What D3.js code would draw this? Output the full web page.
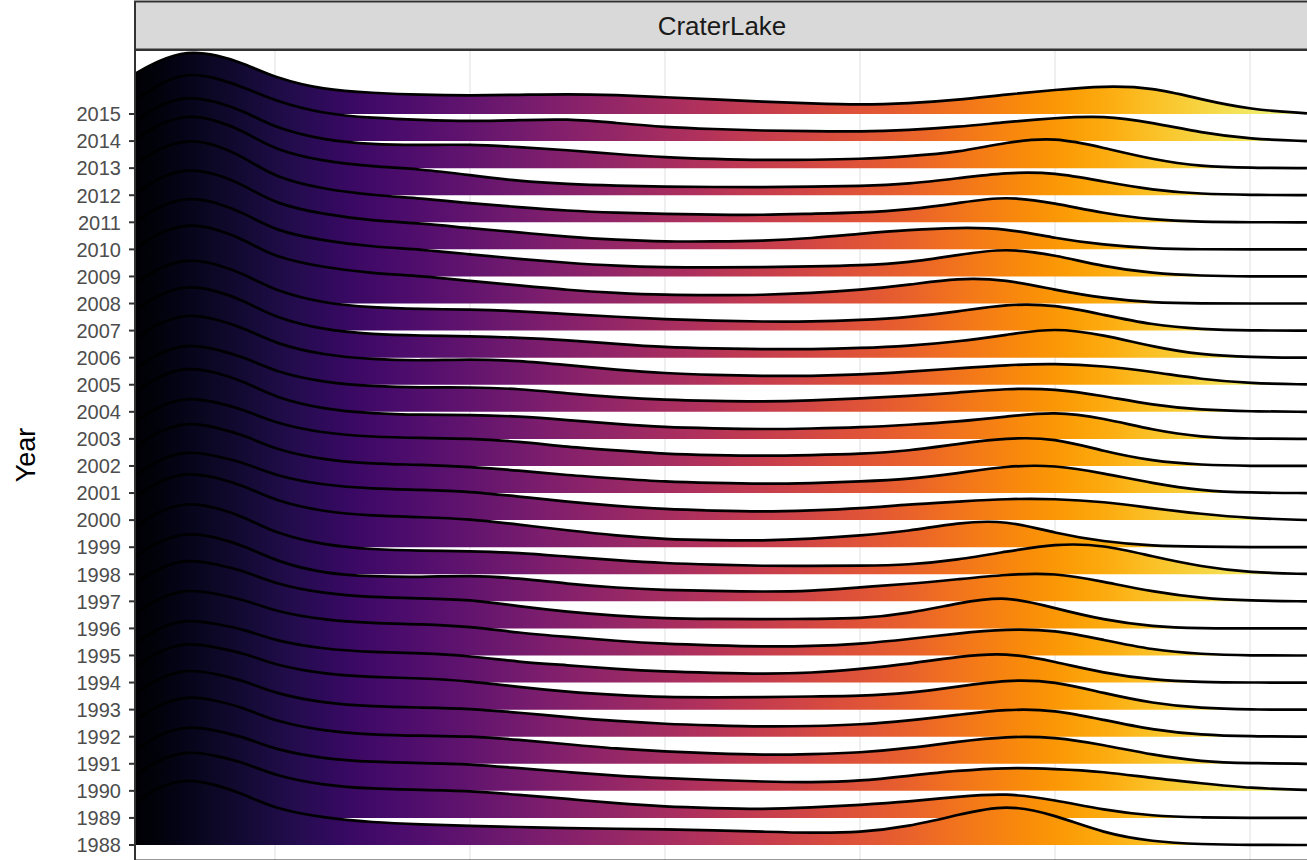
<!DOCTYPE html>
<html>
<head>
<meta charset="utf-8">
<script src="https://cdn.jsdelivr.net/npm/d3@7"></script>
<style>
  body { margin: 0; background: #ffffff; }
  svg { display: block; font-family: "Liberation Sans", Arial, Helvetica, sans-serif; }
</style>
</head>
<body>
<svg id="chart" width="1307" height="860"></svg>
<script>
// ---- data ----
const facetLabel = "CraterLake";
const years = [1988,1989,1990,1991,1992,1993,1994,1995,1996,1997,1998,1999,2000,2001,2002,2003,2004,2005,2006,2007,2008,2009,2010,2011,2012,2013,2014,2015];
const gridValues = [0, 10, 20, 30, 40, 50];
// x positions where the densities were read
const xSamples = [-7.18,-6,-4.5,-3,-1.5,0,2.5,5,7.5,10,12.5,15,17.5,20,22.5,25,27.5,30,32.5,35,37.5,40,42.5,45,47.5,50,52.92];
// density heights (relative units; 27 = one row step)
const d2015 = [40,53,63,59,50,36,24,21,19,18.5,19,20,19,16.7,14.5,12.3,10.5,9,10.5,14,19.5,24,28,26.5,14.5,4.4,0.7];
const d2014 = [40,57,68.5,63,53,40,27,23,21,19.8,20.8,22.3,18,13.8,12,10.4,9.8,9.4,11,14,19,23,25.5,18.5,8.2,2,0];
const d2013 = [46.8,62.8,72,66.5,56.2,40,27.9,23.5,23,23.8,21,18,14,10.8,9.2,8,8.3,9,12,15.5,26,31,20.3,8.6,1.5,0.3,0];
const d2012 = [55,71,80.5,75,63,45,33.7,28.5,26,20,14,11,9.5,8.5,8.2,7.9,8.5,9.2,11.2,16.9,22.8,22.8,13.5,5.2,1.2,0.3,0];
const d2011 = [57.6,73.6,83,77.5,64,44.7,33,27,24,19,15,11.5,9.5,8.3,7.6,7.3,8.5,9.5,12.5,19,26.5,19,9,2.3,0.3,0,0];
const d2010 = [55.4,71.4,81,75.5,63.2,45.4,34.9,28.5,26,21,17,12.5,9.5,7.7,7.9,8.4,11,15.5,19.4,21.8,21,11,4.4,0.8,0,0,0];
const d2009 = [54,70,79.5,74,62.6,45.5,35.6,29.5,27,22,17.5,13.5,10.5,9.1,9,9.1,10,11,13.7,21.4,28.5,21.4,9.7,3,0.7,0,0];
const d2008 = [54.5,70.5,80,74.5,63,45.9,36,30,27.5,22.5,18,13.5,10.5,8.5,8.3,8.5,10.3,13.5,18.5,25.5,24,13.5,5.2,0.8,0,0,0];
const d2007 = [46.6,62.6,72,66.5,55.8,39.5,27.2,22.8,21.5,21,19.5,16.4,13.8,11.3,10,8.9,8.9,10.5,13.3,18.9,26.5,26,15.6,5.6,1.3,0,0];
const d2006 = [47,63,72.5,67,56.2,39.9,27.6,23.2,22,21.3,20,17.5,13.8,10.4,9.2,8.4,8.4,9.5,11.7,16,22.7,30,22.7,11,2.7,0.4,0];
const d2005 = [45.7,61.7,71,65.5,56,40.9,29.5,25.2,24,25.5,24,19.5,15,11.4,9.8,8.7,8.7,10,13,16.4,19.7,21.2,18.7,13,5.4,1.4,0.3];
const d2004 = [42.8,58.8,68,62.5,54,39.9,29.2,25.4,24.1,24.6,23,18.3,14.5,11.8,10.8,10.1,11.2,13.5,15.8,19.1,23.2,23.2,15.8,6.8,1.8,0.4,0];
const d2003 = [46.6,62.6,72,66.5,56.6,41.2,29.5,25.3,23.9,24,22.5,18.8,14.8,11.6,10.5,9.6,10.3,11.5,14,17.2,22.2,27.5,20.6,8.9,1.6,0.2,0];
const d2002 = [43.7,59.7,69,63.5,55.7,42.5,32.5,29,27.8,27.3,24.5,19,15.5,12,10.8,10,10.8,12,15,22,28,28,14.5,4.8,1,0,0];
const d2001 = [45.7,61.7,71,65.5,57.2,43.4,33,29.2,28.2,26,22.5,17.7,14.5,11.3,10,9,9.8,11.5,13.7,19.7,27,28,19.7,9.7,2.3,0.3,0];
const d2000 = [44.4,60.4,69.5,64,56.9,44.3,34.7,31.3,30.3,28.5,23.5,18.2,14,10.8,9.5,8.4,9.7,11.5,15.8,18.4,21.3,21.3,18.4,11.8,6.1,1.8,0.1];
const d1999 = [49.9,65.9,75,69.5,60.7,46.2,35.2,31.2,30,28,22.5,16.8,11.5,7.9,7,6.5,8.2,11.5,16,24.5,27,13.9,5.5,1.2,0.5,0,0];
const d1998 = [47,63,72,66.5,56.7,40.9,29,24.7,23.4,23,21.5,17.5,14,11,9.5,8.3,8.3,8.5,9.3,14.3,22.6,30.5,29.5,17.6,7.6,1.6,0.3];
const d1997 = [44,60,69,64,54.8,40.3,27.5,24.8,24,26,23,17.5,13.5,11.3,10.3,9.6,10.2,14,17.3,22,26.8,28.5,19.6,9.6,3,0.6,0];
const d1996 = [44.4,60.4,69.5,64,56.9,44.2,34.6,31,30,28.8,22,16.5,12.5,10,9.5,9,9.7,9.5,15,25,33,20,8.4,1.7,0,0,0];
const d1995 = [41.5,57.5,66.5,61.5,55.2,43.9,35.3,32.2,31.3,29,22.5,18.5,14.5,11.5,10,8.8,9.2,11.5,16.2,22.2,26.3,25.5,15.5,5.5,1.2,0,0];
const d1994 = [38.6,54.6,63.5,58.5,52.6,41.6,33.3,30.3,29.4,26.5,20.5,17.3,13.5,10.9,9.7,8.6,9.5,13.5,18.6,25.9,30,20.9,9.3,2.6,0.3,0,0];
const d1993 = [42.3,58.3,67.5,62,55.8,44.3,35.5,32.3,31.4,28.5,22.5,17.7,14.5,12.3,12.3,12.3,13.2,13.5,16.3,22.9,29.8,28.6,16.3,6.3,1.3,0,0];
const d1992 = [42.7,58.7,67.8,62.5,55.4,42.9,33.5,30,29.1,28,24,19.5,15.5,12.7,11.3,10,10.5,12,16,21.7,27.6,26.8,16.7,6.7,1.7,0.3,0];
const d1991 = [43.1,59.1,68.2,63,55.3,42.3,32.5,29,27.9,27.5,24,19.5,15,12.1,10.3,8.8,9.5,11,15.5,22.1,27.3,26.8,18.8,8.8,2.1,0.5,0];
const d1990 = [40.2,56.2,65.3,60,53.2,41.1,32,28.7,27.7,26.8,22.5,18.8,15,12.6,10.8,9.2,8.4,9.8,15,20.2,23.2,22,19.2,12.6,7.6,2.6,0.9];
const d1989 = [42.2,58.2,67.3,62,54.7,42.1,32.5,29,28,27,23,19,14.5,11.2,9.8,8.6,10.4,13,16.2,21.2,25,17.9,7.9,1.9,0.5,0,0];
const d1988 = [42,58,66.5,60,50,36,27,22.5,20.5,19,18,16.7,16.2,15.7,14.5,13.3,12,12.5,18.3,30,41,30,11.7,3.3,0.7,0,0];

const densityByYear = {
  1988:d1988,1989:d1989,1990:d1990,1991:d1991,1992:d1992,1993:d1993,1994:d1994,
  1995:d1995,1996:d1996,1997:d1997,1998:d1998,1999:d1999,2000:d2000,2001:d2001,
  2002:d2002,2003:d2003,2004:d2004,2005:d2005,2006:d2006,2007:d2007,2008:d2008,
  2009:d2009,2010:d2010,2011:d2011,2012:d2012,2013:d2013,2014:d2014,2015:d2015
};

// ---- layout ----
const panel = { left: 135, top: 50, right: 1309, bottom: 860.5 };
const strip = { top: 1.5, bottom: 49.5 };

const svg = d3.select("#chart");

const x = d3.scaleLinear().domain([0, 50]).range([275, 1250]);
const y = d3.scalePoint().domain(years).range([845, 114]);
const hScale = d3.scaleLinear().domain([0, 27]).range([0, y.step()]);
const color = d3.scaleSequential(d3.interpolateInferno).domain([xSamples[0], 54]);

// gradient
const defs = svg.append("defs");
const grad = defs.append("linearGradient")
  .attr("id", "infernoGrad")
  .attr("gradientUnits", "userSpaceOnUse")
  .attr("x1", x(color.domain()[0])).attr("x2", x(color.domain()[1]))
  .attr("y1", 0).attr("y2", 0);
d3.range(0, 1.0001, 0.02).forEach(t => {
  const v = color.domain()[0] + t * (color.domain()[1] - color.domain()[0]);
  grad.append("stop").attr("offset", t).attr("stop-color", color(v));
});
defs.append("clipPath").attr("id", "panelClip")
  .append("rect")
  .attr("x", panel.left).attr("y", panel.top)
  .attr("width", panel.right - panel.left).attr("height", panel.bottom - panel.top);

// panel background
svg.append("rect")
  .attr("x", panel.left).attr("y", panel.top)
  .attr("width", panel.right - panel.left).attr("height", panel.bottom - panel.top)
  .attr("fill", "#ffffff");

// grid lines
svg.append("g").selectAll("line").data(gridValues).join("line")
  .attr("x1", d => x(d)).attr("x2", d => x(d))
  .attr("y1", panel.top).attr("y2", panel.bottom)
  .attr("stroke", "#EBEBEB").attr("stroke-width", 1.6);

// ridges: top (2015) first, bottom (1988) last
const ridgeG = svg.append("g").attr("clip-path", "url(#panelClip)");
const order = years.slice().sort((a, b) => b - a);
const curve = d3.curveBasis;
order.forEach(yr => {
  const base = y(yr);
  const pts = xSamples.map((xv, i) => ({ x: xv, v: densityByYear[yr][i] }));
  const area = d3.area()
    .x(d => x(d.x)).y0(base).y1(d => base - hScale(d.v))
    .curve(curve);
  const line = d3.line()
    .x(d => x(d.x)).y(d => base - hScale(d.v))
    .curve(curve);
  const g = ridgeG.append("g");
  g.append("path").attr("d", area(pts)).attr("fill", "url(#infernoGrad)");
  g.append("path").attr("d", line(pts)).attr("fill", "none")
    .attr("stroke", "#000000").attr("stroke-width", 2.7).attr("stroke-linejoin", "round");
});

// panel border
svg.append("rect")
  .attr("x", panel.left).attr("y", panel.top)
  .attr("width", panel.right - panel.left).attr("height", panel.bottom - panel.top)
  .attr("fill", "none").attr("stroke", "#333333").attr("stroke-width", 2);

// strip
svg.append("rect")
  .attr("x", panel.left).attr("y", strip.top)
  .attr("width", panel.right - panel.left).attr("height", strip.bottom - strip.top)
  .attr("fill", "#D9D9D9").attr("stroke", "#333333").attr("stroke-width", 2);
svg.append("text")
  .attr("x", (panel.left + panel.right) / 2).attr("y", 35)
  .attr("text-anchor", "middle")
  .attr("font-size", 26).attr("fill", "#1A1A1A")
  .text(facetLabel);

// y axis
const yAxis = svg.append("g");
yAxis.selectAll("line").data(years).join("line")
  .attr("x1", panel.left - 6).attr("x2", panel.left)
  .attr("y1", d => y(d)).attr("y2", d => y(d))
  .attr("stroke", "#333333").attr("stroke-width", 2);
yAxis.selectAll("text").data(years).join("text")
  .attr("x", panel.left - 14).attr("y", d => y(d) + 7.3)
  .attr("text-anchor", "end")
  .attr("font-size", 20).attr("fill", "#4D4D4D")
  .text(d => d);

// y title
svg.append("text")
  .attr("transform", `translate(35, ${(panel.top + 860) / 2}) rotate(-90)`)
  .attr("text-anchor", "middle")
  .attr("font-size", 27).attr("fill", "#000000")
  .text("Year");
</script>
</body>
</html>
